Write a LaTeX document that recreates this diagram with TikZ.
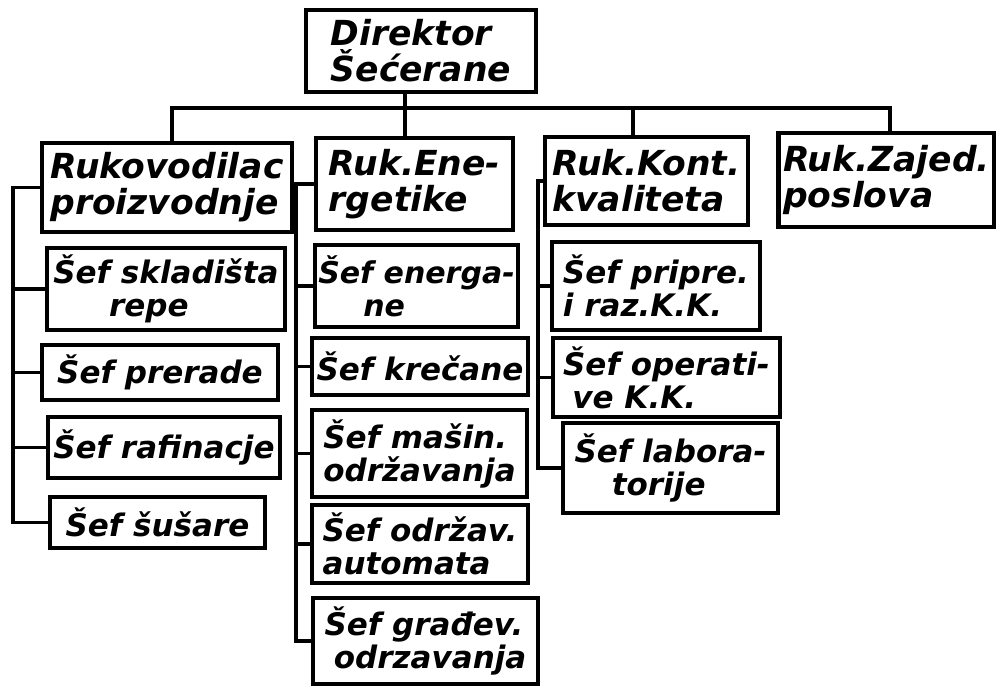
\documentclass[tikz,border=0pt]{standalone}
\usepackage{fontspec}
\setmainfont{DejaVu Sans}
\begin{document}
\begin{tikzpicture}[x=1pt,y=-1pt,
  box/.style={draw, line width=3.8pt, inner sep=0pt, align=left,
    font=\fontsize{31}{33}\selectfont\bfseries\itshape},
  head/.style={box, line width=4.2pt, font=\fontsize{34.5}{36}\selectfont\bfseries\itshape},
  link/.style={line width=3.6pt, line cap=rect}]
\useasboundingbox (0,0) rectangle (996,686);

% top of the chart
\node[head, minimum width=230, minimum height=82] (dir) at (421,51)
  {Direktor\\Šećerane};

% department heads
\node[head, minimum width=250, minimum height=89] (ruk1) at (167,187.5)
  {Rukovodilac\\proizvodnje};
\node[head, minimum width=197, minimum height=92] (ruk2) at (414.5,184)
  {Ruk.Ene-\\rgetike};
\node[head, minimum width=203, minimum height=88] (ruk3) at (646.5,181)
  {Ruk.Kont.\\kvaliteta};
\node[head, minimum width=216, minimum height=94] (ruk4) at (886.5,180)
  {Ruk.Zajed.\\poslova};

% production
\node[box, minimum width=238, minimum height=82] (c11) at (166,289)
  {Šef skladišta\\\hspace*{1.8em}repe};
\node[box, minimum width=236, minimum height=55] (c12) at (160,372.5)
  {Šef prerade};
\node[box, minimum width=232, minimum height=61] (c13) at (164,447.5)
  {Šef rafinacje};
\node[box, minimum width=215, minimum height=51] (c14) at (157.5,522.5)
  {Šef šušare};

% energy
\node[box, minimum width=203, minimum height=82, font=\fontsize{30}{33}\selectfont\bfseries\itshape]
  (c21) at (416.5,286) {Šef energa-\\\hspace*{1.5em}ne};
\node[box, minimum width=216, minimum height=57] (c22) at (420,366.5)
  {Šef krečane};
\node[box, minimum width=215, minimum height=87] (c23) at (419.5,453.5)
  {Šef mašin.\\održavanja};
\node[box, minimum width=216, minimum height=78] (c24) at (420,544)
  {Šef održav.\\automata};
\node[box, minimum width=225, minimum height=86] (c25) at (425.5,641)
  {Šef građev.\\\hspace*{0.3em}odrzavanja};

% quality control
\node[box, minimum width=208, minimum height=88] (c31) at (656,286)
  {Šef pripre.\\i raz.K.K.};
\node[box, minimum width=227, minimum height=79] (c32) at (666.5,377.5)
  {Šef operati-\\\hspace*{0.3em}ve K.K.};
\node[box, minimum width=215, minimum height=90] (c33) at (670.5,468)
  {Šef labora-\\\hspace*{1.2em}torije};

% main bus below the director
\coordinate (jL) at (172,108);
\coordinate (jM) at (405,108);
\coordinate (jK) at (633,108);
\coordinate (jR) at (890,108);
\draw[link] (ruk1.north -| jL) -- (jL) -- (jR) -- (ruk4.north -| jR);
\draw[link] (dir.south -| jM) -- (ruk2.north -| jM);
\draw[link] (jK) -- (ruk3.north -| jK);

% spines of the three departments
\coordinate (s1) at (13,0);
\coordinate (s2) at (296,0);
\coordinate (s3) at (538,0);

\draw[link] (ruk1.west) -| (s1 |- c14.west) -- (c14.west);
\foreach \c in {c11,c12,c13} \draw[link] (\c.west) -- (\c.west -| s1);

\draw[link] (ruk2.west) -| (s2 |- c25.west) -- (c25.west);
\foreach \c in {c21,c22,c23,c24} \draw[link] (\c.west) -- (\c.west -| s2);

\draw[link] (ruk3.west) -| (s3 |- c33.west) -- (c33.west);
\foreach \c in {c31,c32} \draw[link] (\c.west) -- (\c.west -| s3);
\end{tikzpicture}
\end{document}
